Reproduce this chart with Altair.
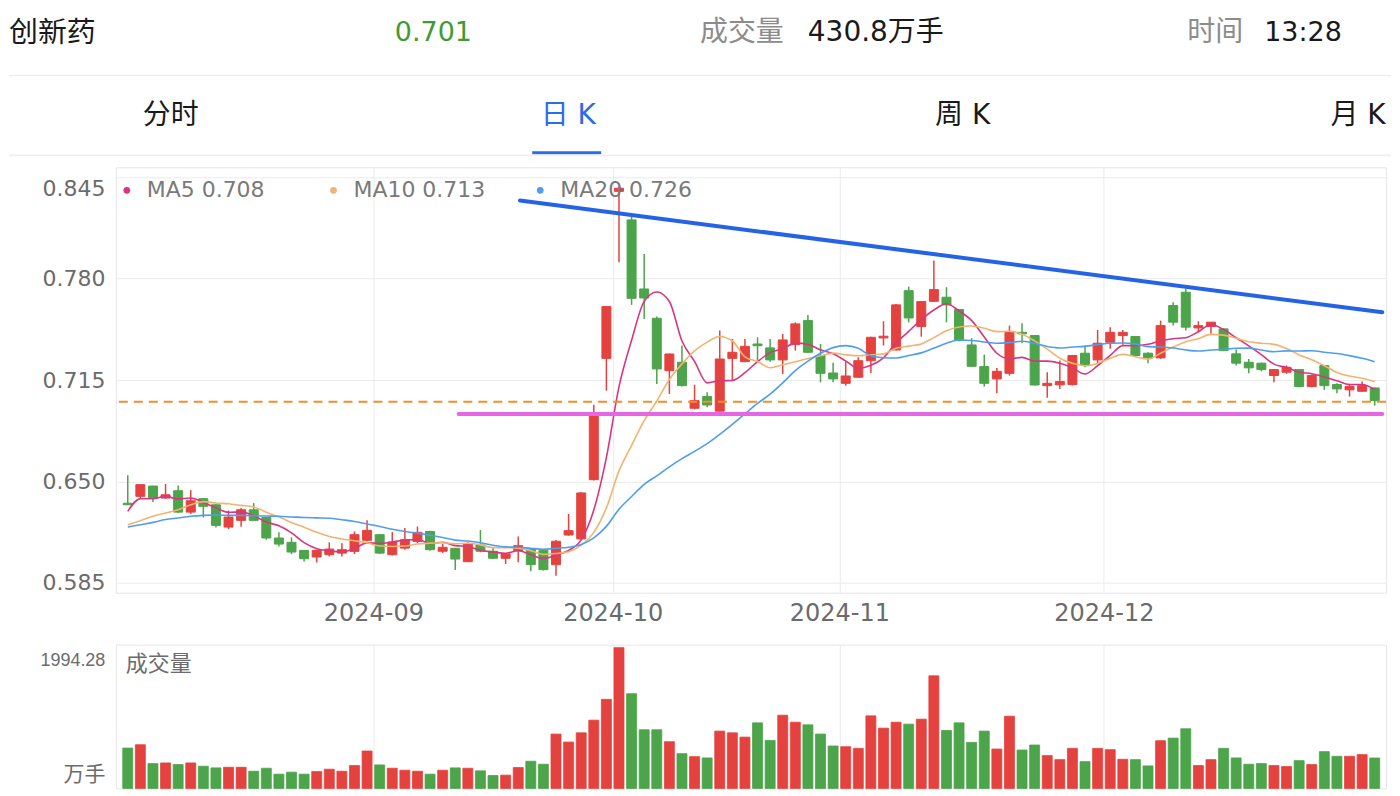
import altair as alt
import pandas as pd

FONT = "DejaVu Sans, Noto Sans CJK SC, sans-serif"

# ---------------- data ----------------
idx = list(range(100))
opens = [0.636, 0.6404, 0.6470, 0.6393, 0.644, 0.6303, 0.6389, 0.635, 0.6207, 0.625,
         0.6318, 0.6269, 0.6137, 0.6109, 0.6057, 0.6015, 0.603, 0.604, 0.6051, 0.6122,
         0.6158, 0.603, 0.6072, 0.6115, 0.6179, 0.6052, 0.6071, 0.5985, 0.6092, 0.6052,
         0.6007, 0.6056, 0.6067, 0.6056, 0.5966, 0.6156, 0.6131, 0.6511, 0.7289, 0.836,
         0.8177, 0.7734, 0.7546, 0.721, 0.7264, 0.6969, 0.7044, 0.695, 0.7289, 0.7268,
         0.7381, 0.7356, 0.7279, 0.7377, 0.7531, 0.7307, 0.7195, 0.7129, 0.7168, 0.7274,
         0.742, 0.7343, 0.7723, 0.7493, 0.7655, 0.7681, 0.7602, 0.7375, 0.7236, 0.7157,
         0.7193, 0.7456, 0.7435, 0.7114, 0.7119, 0.7121, 0.7322, 0.7279, 0.7392, 0.7435,
         0.7429, 0.7322, 0.7292, 0.7628, 0.7713, 0.7484, 0.7493, 0.7478, 0.7318, 0.7264,
         0.7258, 0.7179, 0.7200, 0.7217, 0.7108, 0.7243, 0.7121, 0.7087, 0.7078, 0.7099]
highs = [0.654, 0.648, 0.6472, 0.6483, 0.6474, 0.6444, 0.6392, 0.6354, 0.6312, 0.6329,
         0.6361, 0.6271, 0.6173, 0.6141, 0.6059, 0.6061, 0.6109, 0.6104, 0.6179, 0.625,
         0.6162, 0.6175, 0.6201, 0.6211, 0.6183, 0.6099, 0.6073, 0.6109, 0.6188, 0.6077,
         0.6038, 0.6146, 0.6072, 0.6060, 0.6124, 0.6291, 0.6430, 0.6992, 0.7625, 0.8392,
         0.8198, 0.7959, 0.7557, 0.7321, 0.7371, 0.712, 0.7071, 0.7467, 0.7413, 0.7413,
         0.7424, 0.7413, 0.7446, 0.752, 0.7567, 0.7381, 0.726, 0.727, 0.7296, 0.7428,
         0.7527, 0.7638, 0.7749, 0.7655, 0.7916, 0.7745, 0.7606, 0.7418, 0.7313, 0.7227,
         0.7499, 0.7514, 0.7439, 0.7200, 0.7275, 0.7311, 0.7371, 0.7471, 0.7489, 0.7471,
         0.7433, 0.7328, 0.7531, 0.7649, 0.7734, 0.7527, 0.7521, 0.7484, 0.7345, 0.7285,
         0.7262, 0.7221, 0.7243, 0.7219, 0.7185, 0.7247, 0.7129, 0.7125, 0.7140, 0.7103]
lows = [0.635, 0.6389, 0.6367, 0.6389, 0.6297, 0.629, 0.6269, 0.6205, 0.6194, 0.6209,
        0.6248, 0.6126, 0.6083, 0.6034, 0.5987, 0.598, 0.6019, 0.6019, 0.6034, 0.6115,
        0.6034, 0.6025, 0.6062, 0.6104, 0.6055, 0.6041, 0.5932, 0.5983, 0.6045, 0.6003,
        0.5970, 0.5981, 0.5923, 0.5928, 0.5895, 0.6152, 0.6124, 0.6505, 0.7082, 0.7905,
        0.7632, 0.7542, 0.7125, 0.7061, 0.7108, 0.6962, 0.6975, 0.6948, 0.7150, 0.7264,
        0.7274, 0.7268, 0.7189, 0.7339, 0.7324, 0.7135, 0.7135, 0.7114, 0.7164, 0.7195,
        0.7371, 0.7339, 0.752, 0.7428, 0.7653, 0.752, 0.7399, 0.7236, 0.7108, 0.7065,
        0.7178, 0.7386, 0.7114, 0.7037, 0.7093, 0.7115, 0.7232, 0.7258, 0.7350, 0.7377,
        0.73, 0.7258, 0.7286, 0.7499, 0.7467, 0.7456, 0.7446, 0.7335, 0.7243, 0.7194,
        0.7206, 0.7136, 0.719, 0.7104, 0.7104, 0.7087, 0.7065, 0.7044, 0.7076, 0.6986]
closes = [0.635, 0.6479, 0.6393, 0.6414, 0.6303, 0.6376, 0.634, 0.6218, 0.6271, 0.6318,
          0.625, 0.6137, 0.6098, 0.6047, 0.6004, 0.6057, 0.6066, 0.6062, 0.6158, 0.6186,
          0.6040, 0.6111, 0.6126, 0.6173, 0.6062, 0.6077, 0.6002, 0.6099, 0.6052, 0.6007,
          0.6035, 0.6088, 0.5966, 0.5934, 0.6116, 0.6184, 0.6426, 0.6922, 0.7621, 0.838,
          0.7674, 0.7676, 0.7221, 0.7317, 0.7114, 0.7018, 0.6990, 0.7285, 0.7328, 0.7366,
          0.737, 0.7279, 0.7407, 0.751, 0.7328, 0.7193, 0.7157, 0.7176, 0.7274, 0.7424,
          0.7431, 0.7632, 0.7548, 0.7653, 0.773, 0.7632, 0.7403, 0.7238, 0.7129, 0.7206,
          0.7456, 0.7446, 0.7118, 0.7129, 0.714, 0.7307, 0.7249, 0.7386, 0.7456, 0.7456,
          0.7307, 0.7292, 0.7499, 0.7521, 0.7489, 0.7499, 0.7521, 0.7339, 0.7258, 0.7228,
          0.7217, 0.7217, 0.7232, 0.7108, 0.7179, 0.7114, 0.7093, 0.7108, 0.7114, 0.7018]
volumes = [572, 619, 352, 361, 338, 361, 314, 291, 300, 300,
           244, 286, 202, 230, 202, 239, 272, 244, 324, 530,
           333, 286, 258, 244, 202, 258, 291, 286, 249, 183,
           188, 296, 385, 343, 770, 657, 788, 967, 1262, 1994.28,
           1342, 831, 831, 662, 493, 450, 432, 812, 788, 727,
           929, 680, 1037, 938, 901, 770, 601, 591, 568, 1028,
           854, 938, 910, 981, 1595, 821, 929, 652, 812, 558,
           1023, 544, 615, 465, 408, 568, 380, 568, 549, 413,
           408, 319, 676, 713, 845, 324, 408, 568, 432, 343,
           352, 324, 310, 394, 338, 521, 455, 455, 479, 431]

# moving-average values at the left edge (earlier history not shown)
ma5_head = [0.6308, 0.6389, 0.6389, 0.6404]
ma10_head = [0.6222, 0.6248, 0.6276, 0.6297, 0.6318, 0.635, 0.637, 0.6361, 0.6357]
ma20_head = [0.6207, 0.6222, 0.6237, 0.6255, 0.6265, 0.6276, 0.6282, 0.6284, 0.6282, 0.6282,
             0.6280, 0.6278, 0.6276, 0.6272, 0.6268, 0.6266, 0.6264, 0.6254, 0.6243]

month_bounds = [19.5, 38.5, 56.5, 77.5]
month_labels = ["2024-09", "2024-10", "2024-11", "2024-12"]
price_ticks = [0.585, 0.650, 0.715, 0.780, 0.845]
vol_ticks = [0, 1994.28]

ma_names = ["MA5", "MA10", "MA20"]
ma_last = ["0.708", "0.713", "0.726"]
ma_colors = ["#d8367f", "#f0b470", "#4f9df0"]

last_price = 0.701
resist_idx = [31.14, 99.6]
resist_price = [0.8301, 0.7585]
support_idx = [26.27, 99.6]
support_price = [0.6932, 0.6932]

UP, DOWN = "#e4423f", "#4ca44b"

# ---------------- tables ----------------
cs = pd.Series(closes)
def moving(n, head):
    r = cs.rolling(n).mean().tolist()
    return head + r[len(head):]

df = pd.DataFrame({"idx": idx, "open": opens, "high": highs, "low": lows,
                   "close": closes, "vol": volumes})
df["dir"] = ["up" if c >= o else "down" for o, c in zip(opens, closes)]
df["ma5"] = moving(5, ma5_head)
df["ma10"] = moving(10, ma10_head)
df["ma20"] = moving(20, ma20_head)

W = 1272
PH = 426
VH = 144
LEFT = 107   # width reserved for the y axes (plot starts at page x 115)

dir_scale = alt.Scale(domain=["up", "down"], range=[UP, DOWN])
xs = alt.Scale(domain=[-0.55, 99.5], nice=False, zero=False)
ys = alt.Scale(domain=[0.5786, 0.8514], nice=False, zero=False)
vs = alt.Scale(domain=[0, 2036.7], nice=False, zero=True)

label_expr = " : ".join(
    f"abs(datum.value - {b}) < 0.01 ? '{l}'" for b, l in zip(month_bounds, month_labels)
) + " : ''"

AXC = "#6b6b6b"
x_axis = alt.Axis(values=month_bounds, labelExpr=label_expr, grid=True, gridColor="#ebebeb",
                  domain=False, ticks=False, tickSize=0, labelPadding=9,
                  labelFontSize=24, labelColor=AXC, labelFont=FONT,
                  minExtent=50, maxExtent=50, title=None)
y_axis = alt.Axis(values=price_ticks, format=".3f", grid=True, gridColor="#ebebeb",
                  domain=False, ticks=False, tickSize=0, labelPadding=11,
                  labelFontSize=22, labelColor=AXC, labelFont=FONT,
                  labelBaseline={"condition": {"test": "datum.value > 0.84", "value": "top"},
                                 "value": "middle"},
                  labelOffset={"condition": {"test": "datum.value > 0.84", "value": 1},
                               "value": 0},
                  minExtent=LEFT, maxExtent=LEFT, title=None)

X = alt.X("idx:Q", scale=xs, axis=x_axis, title=None)
Xn = alt.X("idx:Q", title=None)

base = alt.Chart(df)
wicks = base.mark_rule(strokeWidth=1.5).encode(
    x=X, y=alt.Y("low:Q", scale=ys, axis=y_axis, title=None), y2="high:Q",
    color=alt.Color("dir:N", scale=dir_scale, legend=None))
bodies = base.mark_bar(size=9, strokeWidth=1).encode(
    x=Xn, y=alt.Y("open:Q", title=None), y2="close:Q",
    color=alt.Color("dir:N", scale=dir_scale, legend=None),
    stroke=alt.Stroke("dir:N", scale=dir_scale, legend=None))

ma_layers = [
    base.mark_line(strokeWidth=1.6, color=col, interpolate="monotone").encode(
        x=Xn, y=alt.Y(f"{name.lower()}:Q", title=None))
    for name, col in zip(ma_names, ma_colors)
]

dash = alt.Chart(pd.DataFrame({"p": [last_price]})).mark_rule(
    color="#f0902c", strokeDash=[9, 6], strokeWidth=2).encode(y=alt.Y("p:Q", title=None))

resist = alt.Chart(pd.DataFrame({"idx": resist_idx, "p": resist_price})).mark_line(
    color="#2563e6", strokeWidth=4, strokeCap="round").encode(x=Xn, y=alt.Y("p:Q", title=None))
support = alt.Chart(pd.DataFrame({"idx": support_idx, "p": support_price})).mark_line(
    color="#e866e6", strokeWidth=4, strokeCap="round").encode(x=Xn, y=alt.Y("p:Q", title=None))

one = pd.DataFrame({"a": [0]})
legend_layers = []
for i, (name, val, col) in enumerate(zip(ma_names, ma_last, ma_colors)):
    x0 = 11 + i * 207
    legend_layers.append(alt.Chart(one).mark_circle(size=45, color=col, opacity=1).encode(
        x=alt.value(x0), y=alt.value(23)))
    legend_layers.append(alt.Chart(pd.DataFrame({"t": [f"{name}  {val}"]})).mark_text(
        align="left", baseline="middle", fontSize=22, color="#7a7a7a", font=FONT).encode(
        text="t:N", x=alt.value(x0 + 20), y=alt.value(23)))

price = alt.layer(wicks, bodies, *ma_layers, dash, resist, support, *legend_layers).properties(
    width=W, height=PH)

# ---------------- volume panel ----------------
vx_axis = alt.Axis(values=month_bounds, labels=False, grid=True, gridColor="#ebebeb",
                   domain=False, ticks=False, tickSize=0, title=None)
vy_axis = alt.Axis(values=vol_ticks, format=".2f", grid=False, domain=False, ticks=False,
                   tickSize=0, labelPadding=11, labelColor=AXC,
                   labelFont={"condition": {"test": "datum.value < 1", "value": FONT},
                              "value": "Liberation Sans, sans-serif"},
                   labelFontSize={"condition": {"test": "datum.value < 1", "value": 21},
                                  "value": 18},
                   labelExpr="datum.value < 1 ? '万手' : datum.label",
                   labelBaseline={"condition": {"test": "datum.value < 1", "value": "bottom"},
                                  "value": "top"},
                   labelOffset={"condition": {"test": "datum.value < 1", "value": -4},
                                "value": 4},
                   minExtent=LEFT, maxExtent=LEFT, title=None)
vbars = alt.Chart(df).mark_bar(size=10, strokeWidth=0.8).encode(
    x=alt.X("idx:Q", scale=xs, axis=vx_axis, title=None),
    y=alt.Y("vol:Q", scale=vs, axis=vy_axis, title=None),
    color=alt.Color("dir:N", scale=dir_scale, legend=None),
    stroke=alt.Stroke("dir:N", scale=dir_scale, legend=None))
vlabel = alt.Chart(pd.DataFrame({"t": ["成交量"]})).mark_text(
    align="left", baseline="middle", fontSize=22, color=AXC, font=FONT).encode(
    text="t:N", x=alt.value(10), y=alt.value(19))
volume = alt.layer(vbars, vlabel).properties(width=W, height=VH)

# ---------------- header rows (x relative to plot left at page x 115) ----------------
def htext(t, x, y, color, align="left", size=28):
    return alt.Chart(pd.DataFrame({"t": [t]})).mark_text(
        align=align, baseline="middle", fontSize=size, color=color, font=FONT).encode(
        text="t:N", x=alt.value(x), y=alt.value(y))

def hline(x1, x2, y, color, w):
    return alt.Chart(one).mark_rule(color=color, strokeWidth=w).encode(
        x=alt.value(x1), x2=alt.value(x2), y=alt.value(y))

header = alt.layer(
    htext("创新药", -LEFT, 24, "#1a1a1a", size=29),
    htext(f"{last_price:.3f}", 318, 24, "#3f9a36", align="center", size=27),
    htext("成交量", 585, 24, "#8c8c8c"),
    htext("430.8万手", 693, 24, "#1a1a1a"),
    htext("时间", 1073, 24, "#8c8c8c"),
    htext("13:28", 1150, 24, "#1a1a1a", size=27),
    hline(-LEFT, W + 5, 67, "#eeeeee", 1.5),
    htext("分时", 55, 108, "#1a1a1a", align="center"),
    htext("日 K", 453, 108, "#2b6de6", align="center"),
    htext("周 K", 848, 108, "#1a1a1a", align="center"),
    htext("月 K", 1244, 108, "#1a1a1a", align="center"),
    hline(417, 486, 144.5, "#2b6de6", 3),
    hline(-LEFT, W + 5, 147, "#eeeeee", 1.5),
).properties(width=W, height=158, view=alt.ViewBackground(strokeOpacity=0))

chart = alt.vconcat(header, price, volume, spacing=0).properties(
    padding={"left": 0, "top": 0, "right": 0, "bottom": 0}
).configure(font=FONT).configure_view(stroke="#e6e6e6", strokeWidth=1)

chart.save("out.html", embed_options={"renderer": "svg", "actions": False})
